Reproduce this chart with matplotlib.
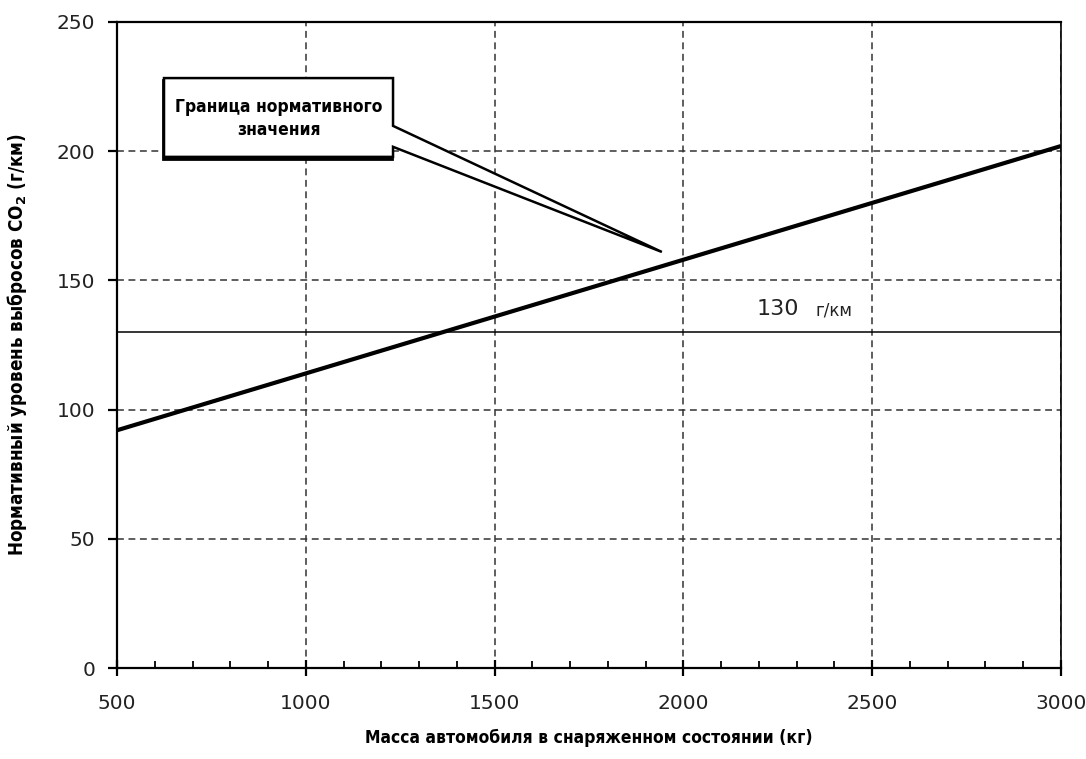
import numpy as np
import matplotlib
matplotlib.use("Agg")
from matplotlib import pyplot as plt
from matplotlib.patches import Polygon, Rectangle
from matplotlib.ticker import MultipleLocator
import matplotlib.transforms as mtransforms
from matplotlib import font_manager

# data
mass = [500, 3000]
co2_limit = [92, 202]
target = 130
target_label = "130"
target_unit = "г/км"
callout_text = "Граница нормативного\nзначения"
xlabel = "Масса автомобиля в снаряженном состоянии (кг)"
ylabel = "Нормативный уровень выбросов CO$_\\mathbf{2}$ (г/км)"

# look for a bold condensed face for the labels
bold_font = font_manager.FontProperties(family="DejaVu Sans", weight="bold")
for f in font_manager.fontManager.ttflist:
    w = f.weight if isinstance(f.weight, int) else 700 if "bold" in str(f.weight) else 400
    if w >= 700 and ("ondensed" in f.name or "Narrow" in f.name
                     or f.stretch in ("condensed", "semi-condensed")):
        bold_font = font_manager.FontProperties(fname=f.fname)
        break

fig = plt.figure(figsize=(10.86, 7.59), dpi=100)
ax = fig.add_axes([117/1086, 1-668/759, 944/1086, 646/759])

ax.plot(mass, co2_limit, color="black", lw=3.0, solid_capstyle="butt", zorder=4)
ax.axhline(target, color="black", lw=1.1, zorder=3)

ax.set_xlim(500, 3000)
ax.set_ylim(0, 250)
ax.xaxis.set_major_locator(MultipleLocator(500))
ax.xaxis.set_minor_locator(MultipleLocator(100))
ax.yaxis.set_major_locator(MultipleLocator(50))
ax.grid(True, which="major", ls=(0, (4.5, 3)), color="#333333", lw=1.1)

for s in ax.spines.values():
    s.set_linewidth(1.6)
ax.spines["right"].set_linewidth(1.2)
ax.tick_params(axis="x", which="major", direction="inout", length=12, width=1.6,
               labelsize=14.5, pad=13)
ax.tick_params(axis="x", which="minor", direction="in", length=5, width=1.3)
ax.tick_params(axis="y", which="major", direction="out", length=6.5, width=1.6,
               labelsize=14.5, pad=9)
for lab in ax.get_xticklabels() + ax.get_yticklabels():
    lab.set_color("#222222")

ax.set_xlabel(xlabel, fontproperties=bold_font, fontsize=12.5, labelpad=11)
ax.set_ylabel(ylabel, fontproperties=bold_font, fontsize=13.5, labelpad=20)

# 130 g/km label
ax.text(2195, 136.5, target_label, fontsize=16, color="#222222", va="baseline")
ax.text(2350, 136.5, target_unit, fontsize=12, color="#222222", va="baseline")

# callout box with pointer
bx0, bx1, by0, by1 = 624.5, 1231, 197.8, 228.3
wy_top, wy_bot = 209.8, 201.7
tip = (1943, 161)
shadow = mtransforms.offset_copy(ax.transData, fig=fig, x=-1, y=-2, units="dots")
ax.add_patch(Rectangle((bx0, by0), bx1 - bx0, by1 - by0, transform=shadow,
                       facecolor="black", edgecolor="black", lw=2.0, zorder=5))
ax.add_patch(Polygon([(bx0, by0), (bx1, by0), (bx1, wy_bot), tip, (bx1, wy_top),
                      (bx1, by1), (bx0, by1)], closed=True, facecolor="white",
                     edgecolor="black", lw=1.8, zorder=6, joinstyle="miter"))
ax.text((bx0 + bx1) / 2, (by0 + by1) / 2 - 0.3, callout_text, ha="center", va="center",
        fontproperties=bold_font, fontsize=12.5, linespacing=1.35, zorder=7)

fig.savefig("out.png", dpi=100)
